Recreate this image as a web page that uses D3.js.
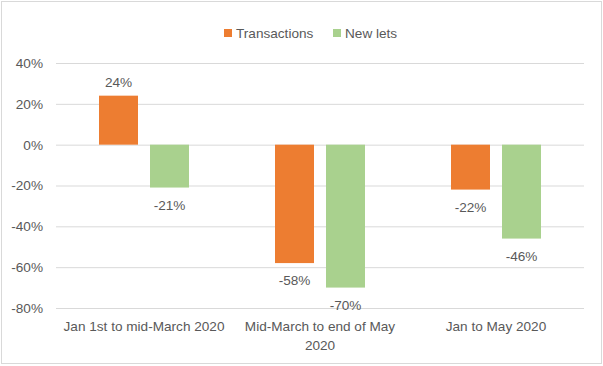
<!DOCTYPE html>
<html><head><meta charset="utf-8">
<script src="https://cdn.jsdelivr.net/npm/d3@7"></script>
<style>body{margin:0;background:#fff}svg{display:block;font-family:"Liberation Sans",Arial,sans-serif}</style>
</head><body><svg id="c" width="603" height="366"></svg>
<script>
const categories = [["Jan 1st to mid-March 2020"], ["Mid-March to end of May", "2020"], ["Jan to May 2020"]];
const seriesNames = ["Transactions", "New lets"];
const transactions = [24, -58, -22];
const newLets = [-21, -70, -46];
const yTicks = [40, 20, 0, -20, -40, -60, -80];
const colors = ["#ED7D31", "#A9D18E"];

(function(){
const svg = d3.select("#c");
const textColor = "#595959";
const fs = "13.6px";
svg.append("rect").attr("x",1.5).attr("y",1.5).attr("width",600).attr("height",362)
  .attr("fill","#fff").attr("stroke","#d9d9d9");

const pL = 56, pR = 584, pT = 63, pB = 308;
const y = d3.scaleLinear().domain([-80, 40]).range([pB, pT]);
const x0 = d3.scaleBand().domain(d3.range(categories.length)).range([pL, pR]).paddingInner(0).paddingOuter(0);
const x1 = d3.scaleBand().domain(d3.range(seriesNames.length)).range([43, 133]).paddingInner(12/51);

const yAxis = d3.axisLeft(y).tickValues(yTicks).tickFormat(d => d + "%").tickSize(-(pR-pL)).tickPadding(13);
const ga = svg.append("g").attr("transform", `translate(${pL},0)`).call(yAxis);
ga.select(".domain").remove();
ga.selectAll(".tick line").attr("stroke", "#d9d9d9").attr("stroke-width", 1);
ga.selectAll(".tick text").attr("fill", textColor).style("font-size", fs).style("font-family", "Liberation Sans, Arial, sans-serif");

const data = [transactions, newLets];
data.forEach((vals, s) => {
  const g = svg.append("g");
  g.selectAll("rect").data(vals).join("rect")
    .attr("x", (d, i) => x0(i) + x1(s))
    .attr("width", x1.bandwidth())
    .attr("y", d => y(Math.max(0, d)))
    .attr("height", d => Math.abs(y(d) - y(0)))
    .attr("fill", colors[s]);
  g.selectAll("text").data(vals).join("text")
    .attr("x", (d, i) => x0(i) + x1(s) + x1.bandwidth()/2)
    .attr("y", d => d >= 0 ? y(d) - 9 : y(d) + 22)
    .attr("text-anchor", "middle")
    .attr("fill", textColor).style("font-size", fs)
    .text(d => d + "%");
});

categories.forEach((lines, i) => {
  const t = svg.append("text").attr("text-anchor", "middle").attr("fill", textColor).style("font-size", fs);
  lines.forEach((ln, k) => {
    t.append("tspan").attr("x", x0(i) + x0.bandwidth()/2).attr("y", 331 + k * 19).text(ln);
  });
});

const legend = [{x: 224, tx: 236}, {x: 333, tx: 345}];
seriesNames.forEach((n, s) => {
  svg.append("rect").attr("x", legend[s].x).attr("y", 29).attr("width", 8).attr("height", 8).attr("fill", colors[s]);
  svg.append("text").attr("x", legend[s].tx).attr("y", 38).attr("fill", textColor).style("font-size", fs).text(n);
});
})();
</script></body></html>
